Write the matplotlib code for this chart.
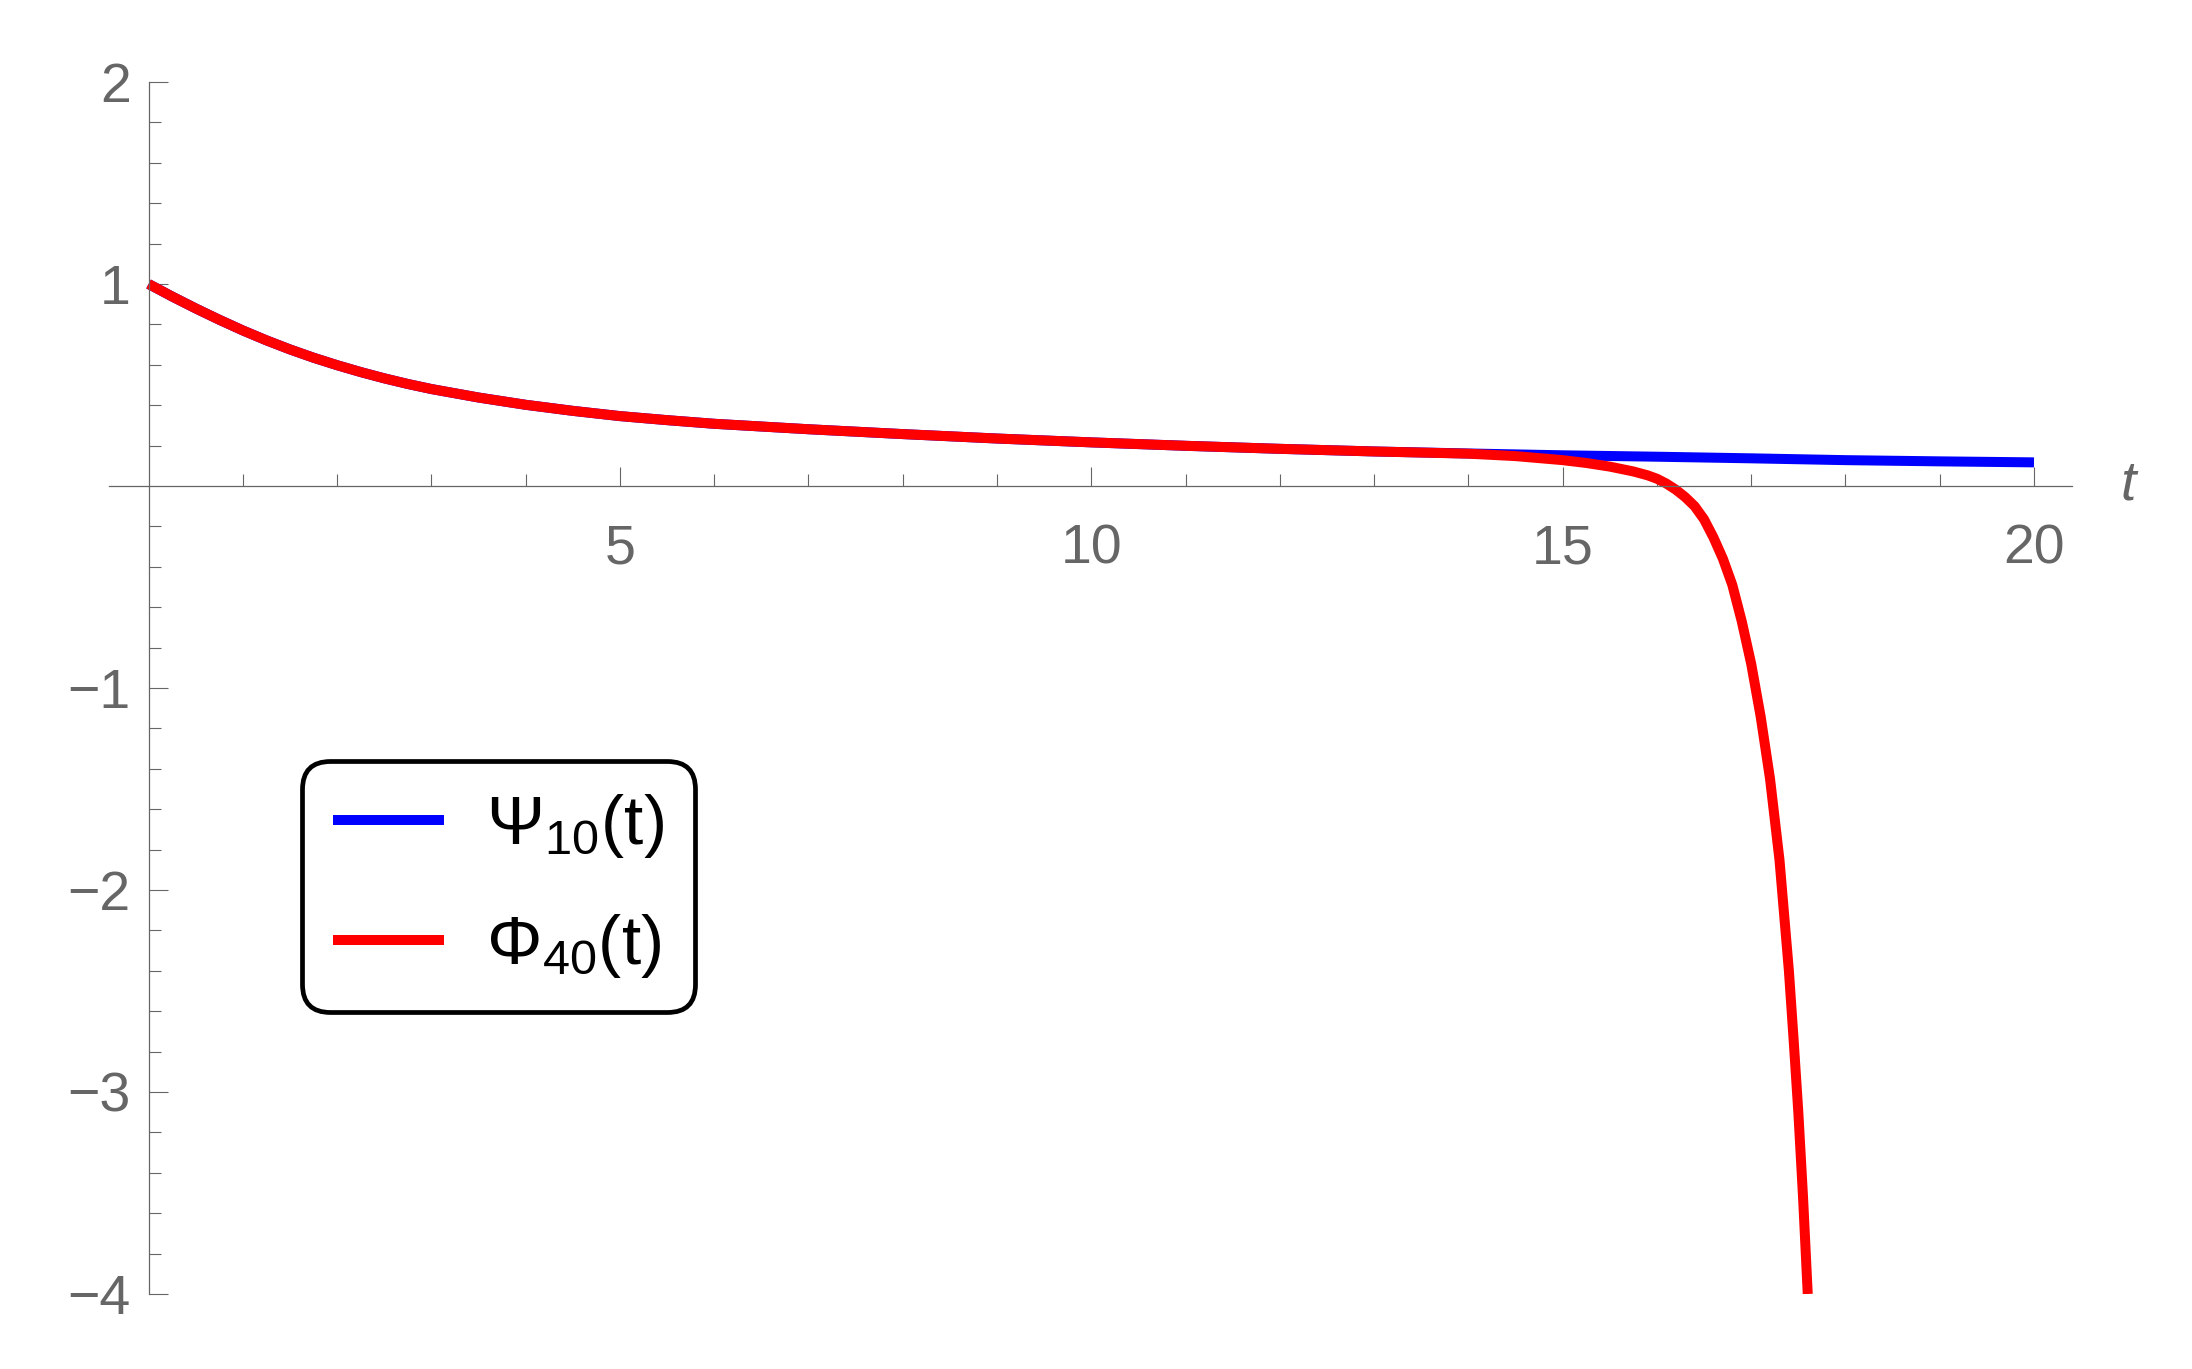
import matplotlib
matplotlib.use("Agg")
from matplotlib import pyplot as plt

plt.rcParams['font.family'] = ['Liberation Sans', 'DejaVu Sans']
plt.rcParams['mathtext.fontset'] = 'custom'
plt.rcParams['mathtext.rm'] = 'Liberation Sans'
plt.rcParams['mathtext.it'] = 'Liberation Sans'
plt.rcParams['axes.unicode_minus'] = True

# values
t_psi = [0, 0.25, 0.5, 0.75, 1, 1.25, 1.5, 1.75, 2, 2.25, 2.5, 2.75, 3, 3.5, 4, 4.5,
         5, 5.5, 6, 7, 8, 9, 10, 11, 12, 13, 14, 15, 16, 17, 18, 19, 20]
psi = [1.0, 0.938, 0.879, 0.823, 0.770, 0.721, 0.676, 0.635, 0.598, 0.564, 0.533,
       0.505, 0.480, 0.438, 0.402, 0.372, 0.346, 0.326, 0.308, 0.281, 0.257, 0.235,
       0.216, 0.199, 0.184, 0.171, 0.161, 0.152, 0.145, 0.137, 0.128, 0.122, 0.117]

t_phi = [0, 0.25, 0.5, 0.75, 1, 1.25, 1.5, 1.75, 2, 2.25, 2.5, 2.75, 3, 3.5, 4, 4.5,
         5, 5.5, 6, 7, 8, 9, 10, 11, 12, 13, 14, 14.5, 15, 15.25, 15.5, 15.75, 15.9,
         16.0, 16.1, 16.2, 16.3, 16.4, 16.5, 16.6, 16.7, 16.8, 16.9, 17.0, 17.1, 17.2,
         17.3, 17.4, 17.45, 17.5, 17.55, 17.6]
phi = [1.0, 0.938, 0.879, 0.823, 0.770, 0.721, 0.676, 0.635, 0.598, 0.564, 0.533,
       0.505, 0.480, 0.438, 0.402, 0.372, 0.346, 0.326, 0.308, 0.281, 0.257, 0.235,
       0.216, 0.199, 0.184, 0.171, 0.160, 0.148, 0.128, 0.114, 0.096, 0.072, 0.053,
       0.036, 0.012, -0.018, -0.055, -0.100, -0.165, -0.255, -0.360, -0.490, -0.670,
       -0.880, -1.140, -1.450, -1.850, -2.400, -2.740, -3.100, -3.520, -4.0]

labels = [r'$\Psi_{10}(t)$', r'$\Phi_{40}(t)$']
x_major = [5, 10, 15, 20]
x_minor = [1, 2, 3, 4, 6, 7, 8, 9, 11, 12, 13, 14, 16, 17, 18, 19]
y_major = [-4, -3, -2, -1, 1, 2]
y_minor = [-4 + 0.2 * i for i in range(31) if i % 5 != 0]

gray = '#666666'
W, H = 2192, 1369
fig = plt.figure(figsize=(W / 100, H / 100), dpi=100)
ax = fig.add_axes([109 / W, 1 - 1294 / H, (2071.7 - 109) / W, (1294 - 82) / H])

ax.plot(t_psi, psi, color='#0000ff', lw=7.2, solid_capstyle='butt',
        solid_joinstyle='round', label=labels[0])
ax.plot(t_phi, phi, color='#ff0000', lw=7.2, solid_capstyle='butt',
        solid_joinstyle='round', label=labels[1])

ax.set_xlim(-0.42, 20.40)
ax.set_ylim(-4, 2)

for s in ['top', 'right']:
    ax.spines[s].set_visible(False)
for s in ['left', 'bottom']:
    ax.spines[s].set_position(('data', 0))
    ax.spines[s].set_color(gray)
    ax.spines[s].set_linewidth(0.9)

ax.set_xticks(x_major)
ax.set_xticklabels([str(v) for v in x_major])
ax.set_xticks(x_minor, minor=True)
ax.set_yticks(y_major)
ax.set_yticklabels([str(v).replace('-', '\u2212') for v in y_major])
ax.set_yticks(y_minor, minor=True)

ax.tick_params(which='both', direction='in', color=gray, width=0.8,
               labelcolor=gray, labelsize=40)
ax.tick_params(which='major', length=13.7)
ax.tick_params(which='minor', length=8.4)
ax.tick_params(axis='x', which='major', pad=27)
ax.tick_params(axis='y', which='major', pad=13)

ax.text(21.0, 0, 't', style='italic', color=gray, fontsize=40,
        ha='center', va='center', clip_on=False)

leg = ax.legend(loc='upper left', bbox_to_anchor=(302 / W, 1 - 761 / H),
                bbox_transform=fig.transFigure, fontsize=50, frameon=True,
                fancybox=True, edgecolor='black', framealpha=1,
                handlelength=1.6, handletextpad=0.6, borderpad=0.45,
                labelspacing=0.75, borderaxespad=0)
leg.get_frame().set_linewidth(3.4)
leg.get_frame().set_boxstyle('round', pad=0, rounding_size=0.4)
for line in leg.get_lines():
    line.set_linewidth(7.2)
    line.set_solid_capstyle('butt')

fig.savefig('out.png', dpi=100)
